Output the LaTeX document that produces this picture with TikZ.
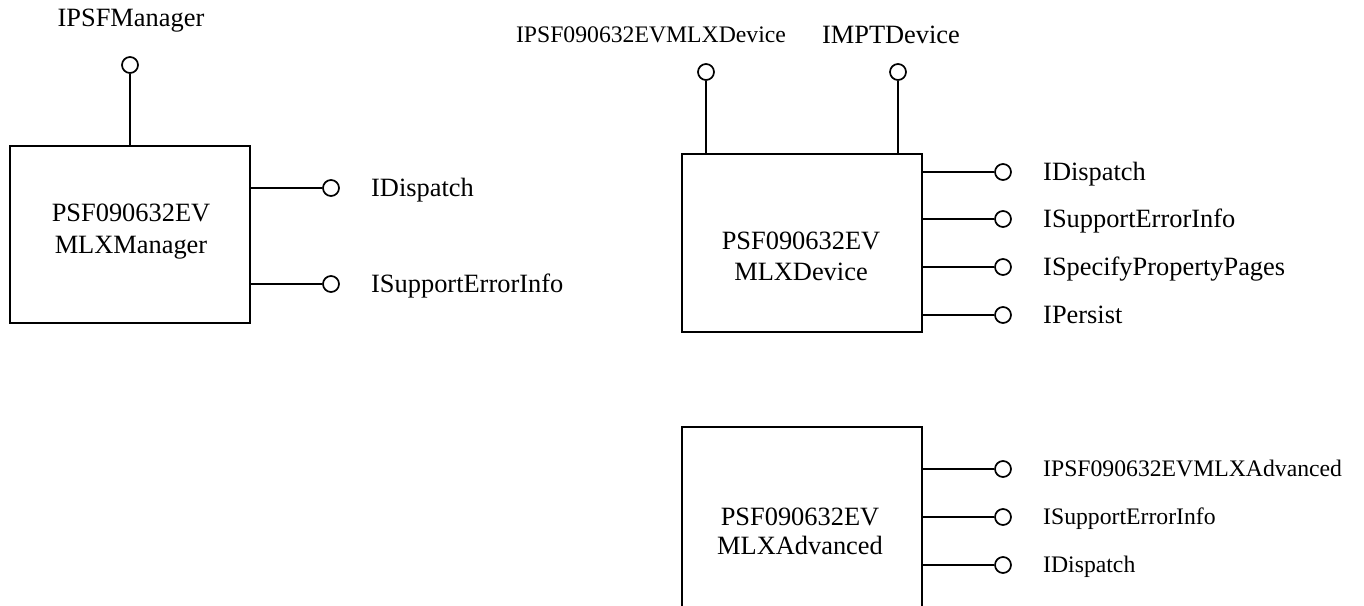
\documentclass[tikz,border=0pt]{standalone}
\usepackage{fontspec}
\setmainfont{Liberation Serif}
\tikzset{
  box/.style={draw, line width=2pt, minimum width=240pt, inner sep=0pt},
  lol/.style={draw, circle, line width=1.7pt, minimum size=16pt, inner sep=0pt},
  conn/.style={line width=2pt},
  big/.style={font=\fontsize{26.4}{32}\selectfont},
  small/.style={font=\fontsize{23.7}{28}\selectfont},
}
\begin{document}
\begin{tikzpicture}[x=1pt,y=1pt]
\useasboundingbox (0,0) rectangle (1364,-605);
% ---------- Manager ----------
\node[box, minimum height=177pt] (b1) at (130,-234.5) {};
\node[big, align=center, font=\fontsize{26.4}{32}\selectfont] (t1) at (131,-232) {PSF090632EV\\MLXManager};
\node[lol] (m1t) at (130,-65) {};
\node[big, anchor=base] (l1t) at (131,-27) {IPSFManager};
\draw[conn] (b1.north -| m1t) -- (m1t);
\node[lol] (m1a) at (331,-188) {};
\node[lol] (m1b) at (331,-284) {};
\draw[conn] (b1.east |- m1a) -- (m1a);
\draw[conn] (b1.east |- m1b) -- (m1b);
\node[big, anchor=base west, inner sep=0pt] (l1a) at (371,-196.7) {IDispatch};
\node[big, anchor=base west, inner sep=0pt] (l1b) at (371,-292.7) {ISupportErrorInfo};
% ---------- Device ----------
\node[box, minimum height=178pt] (b2) at (802,-243) {};
\node[big, align=center, font=\fontsize{26.4}{31}\selectfont] (t2) at (801,-256.5) {PSF090632EV\\MLXDevice};
\node[lol] (m2t) at (706,-72) {};
\node[lol] (m2u) at (898,-72) {};
\draw[conn] (b2.north -| m2t) -- (m2t);
\draw[conn] (b2.north -| m2u) -- (m2u);
\node[small, anchor=base] (l2t) at (651,-42) {IPSF090632EVMLXDevice};
\node[big, anchor=base] (l2u) at (891,-43) {IMPTDevice};
\node[lol] (m2a) at (1003,-172) {};
\node[lol] (m2b) at (1003,-219) {};
\node[lol] (m2c) at (1003,-267) {};
\node[lol] (m2d) at (1003,-315) {};
\draw[conn] (b2.east |- m2a) -- (m2a);
\draw[conn] (b2.east |- m2b) -- (m2b);
\draw[conn] (b2.east |- m2c) -- (m2c);
\draw[conn] (b2.east |- m2d) -- (m2d);
\node[big, anchor=base west, inner sep=0pt] (l2a) at (1043,-180.7) {IDispatch};
\node[big, anchor=base west, inner sep=0pt] (l2b) at (1043,-227.7) {ISupportErrorInfo};
\node[big, anchor=base west, inner sep=0pt] (l2c) at (1043,-275.7) {ISpecifyPropertyPages};
\node[big, anchor=base west, inner sep=0pt] (l2d) at (1043,-323.7) {IPersist};
% ---------- Advanced ----------
\node[box, minimum height=180pt] (b3) at (802,-517) {};
\node[big, align=center, font=\fontsize{26.4}{29}\selectfont] (t3) at (800,-531.5) {PSF090632EV\\MLXAdvanced};
\node[lol] (m3a) at (1003,-469) {};
\node[lol] (m3b) at (1003,-517) {};
\node[lol] (m3c) at (1003,-565) {};
\draw[conn] (b3.east |- m3a) -- (m3a);
\draw[conn] (b3.east |- m3b) -- (m3b);
\draw[conn] (b3.east |- m3c) -- (m3c);
\node[small, anchor=base west, inner sep=0pt] (l3a) at (1043,-476.8) {IPSF090632EVMLXAdvanced};
\node[small, anchor=base west, inner sep=0pt] (l3b) at (1043,-524.8) {ISupportErrorInfo};
\node[small, anchor=base west, inner sep=0pt] (l3c) at (1043,-572.8) {IDispatch};
\end{tikzpicture}
\end{document}
